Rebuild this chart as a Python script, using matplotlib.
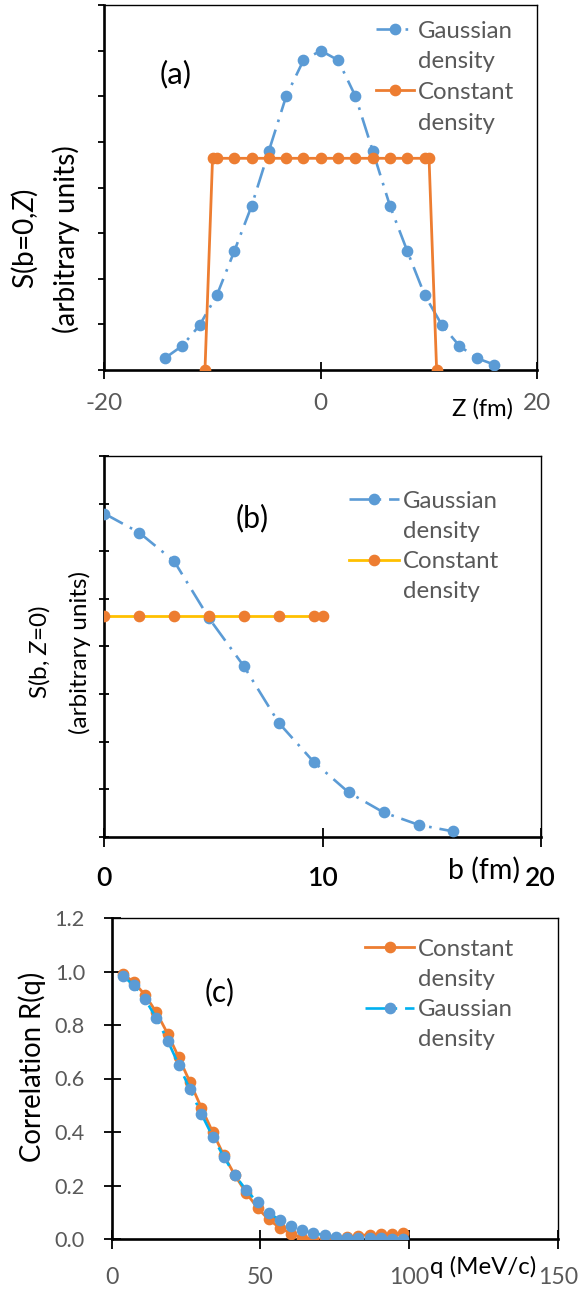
import numpy as np
import matplotlib
matplotlib.use("Agg")
import matplotlib.pyplot as plt
from matplotlib.lines import Line2D
from matplotlib.font_manager import FontProperties

plt.rcParams['font.family'] = ['Lato', 'DejaVu Sans']
plt.rcParams['axes.unicode_minus'] = False
plt.rcParams['mathtext.fontset'] = 'custom'
plt.rcParams['mathtext.rm'] = 'Lato'
plt.rcParams['mathtext.it'] = 'Lato:italic'

# ---------------- data ----------------
# panel (a): S(b=0, Z) vs Z (fm)
za_gauss = [-14.4, -12.8, -11.2, -9.6, -8.0, -6.4, -4.8, -3.2, -1.6, 0.0,
            1.6, 3.2, 4.8, 6.4, 8.0, 9.6, 11.2, 12.8, 14.4, 16.0]
sa_gauss = [0.26, 0.53, 0.98, 1.64, 2.60, 3.59, 4.80, 6.00, 6.79, 7.00,
            6.79, 6.00, 4.80, 3.59, 2.60, 1.64, 0.98, 0.53, 0.26, 0.12]
za_const = [-10.7, -10.0, -9.6, -8.0, -6.4, -4.8, -3.2, -1.6, 0.0,
            1.6, 3.2, 4.8, 6.4, 8.0, 9.6, 10.0, 10.7]
sa_const = [0.0, 4.64, 4.64, 4.64, 4.64, 4.64, 4.64, 4.64, 4.64,
            4.64, 4.64, 4.64, 4.64, 4.64, 4.64, 4.64, 0.0]

# panel (b): S(b, Z=0) vs b (fm)
bb_gauss = [0.0, 1.6, 3.2, 4.8, 6.4, 8.0, 9.6, 11.2, 12.8, 14.4, 16.0]
sb_gauss = [6.79, 6.39, 5.79, 4.59, 3.58, 2.39, 1.57, 0.93, 0.51, 0.25, 0.11]
bb_const = [0.0, 1.6, 3.2, 4.8, 6.4, 8.0, 9.6, 10.0]
sb_const = [4.64, 4.64, 4.64, 4.64, 4.64, 4.64, 4.64, 4.64]

# panel (c): correlation R(q) vs q (MeV/c)
q_vals = [3.8, 7.5, 11.3, 15.1, 18.9, 22.6, 26.4, 30.2, 34.0, 37.7, 41.5,
          45.3, 49.1, 52.8, 56.6, 60.4, 64.2, 67.9, 71.7, 75.5, 79.3, 83.0,
          86.8, 90.6, 94.4, 98.1]
r_const = [0.991, 0.960, 0.912, 0.847, 0.767, 0.679, 0.586, 0.491, 0.400,
           0.314, 0.238, 0.172, 0.116, 0.073, 0.042, 0.020, 0.004, 0.000,
           0.000, 0.005, 0.007, 0.013, 0.016, 0.019, 0.018, 0.021]
r_gauss = [0.983, 0.949, 0.896, 0.825, 0.741, 0.651, 0.559, 0.468, 0.383,
           0.308, 0.238, 0.183, 0.137, 0.099, 0.070, 0.050, 0.032, 0.022,
           0.014, 0.008, 0.005, 0.004, 0.002, 0.002, 0.001, 0.001]

xticks_a = [-20, 0, 20]
xticks_b = [0, 10, 20]
xticks_c = [0, 50, 100, 150]
yticks_c = [0.0, 0.2, 0.4, 0.6, 0.8, 1.0, 1.2]

# ---------------- style ----------------
BLUE = '#5B9BD5'
ORANGE = '#ED7D31'
YELLOW = '#FFC000'
CYAN = '#00B0F0'
GRAY = '#595959'
DASHDOT = (0, (8, 3, 1, 3))
MS = 7.4
LW_D = 1.9
LW_S = 2.0

W, H = 580, 1295
DPI = 100
fig = plt.figure(figsize=(W / DPI, H / DPI), dpi=DPI)
renderer = fig.canvas.get_renderer()


def text_wh(s, size, weight='normal'):
    prop = FontProperties(family=plt.rcParams['font.family'], size=size, weight=weight)
    w, h, d = renderer.get_text_width_height_descent(s, prop, ismath=False)
    return w, h, d


def fit(s, target_px, weight='normal'):
    w, _, _ = text_wh(s, 20, weight)
    return 20.0 * target_px / w


def px2pt(px):
    return px * 72.0 / DPI


def add_axes_px(left, top, right, bottom):
    return fig.add_axes([left / W, 1 - bottom / H, (right - left) / W, (bottom - top) / H])


def style_axes(ax, tickcolor):
    for s in ['left', 'bottom']:
        ax.spines[s].set_linewidth(1.9)
    for s in ['top', 'right']:
        ax.spines[s].set_linewidth(1.0)
    ax.tick_params(axis='both', colors='black', width=1.3)
    ax.tick_params(axis='x', labelcolor=tickcolor)
    ax.tick_params(axis='y', labelcolor=tickcolor)


def line_pitch_factor(size, pitch_px):
    _, h, d = text_wh('lp', size)
    return pitch_px / (h - d) if h - d > 0 else 1.2


LEG_FS = fit('Gaussian', 95)
BLANK = Line2D([], [], color='none')


def two_row_legend(ax, box, h1, t1, h2, t2, handle_left_px, first_row_px, pitch_px, hl_px):
    left, top, right, bottom = box
    fs_px = LEG_FS * DPI / 72.0
    _, hlp, dlp = text_wh('lp', LEG_FS)
    ls = (pitch_px - hlp) / fs_px
    top_px = first_row_px - hlp / 2.0
    x = (handle_left_px - left) / (right - left)
    y = (bottom - top_px) / (bottom - top)
    leg = ax.legend(handles=[h1, BLANK, h2, BLANK],
                    labels=[t1, 'density', t2, 'density'],
                    loc='upper left', bbox_to_anchor=(x, y),
                    frameon=False, fontsize=LEG_FS, labelcolor=GRAY,
                    handlelength=hl_px / fs_px, handletextpad=4.0 / fs_px,
                    labelspacing=ls, borderpad=0.0, borderaxespad=0.0)
    return leg


def place_label(axis, box, cx_px, cy_px):
    left, top, right, bottom = box
    axis.set_label_coords((cx_px - left) / (right - left), (bottom - cy_px) / (bottom - top))
    axis.label.set_va('center')
    axis.label.set_ha('center')


# ---------------- panel (a) ----------------
box_a = (104.3, 5, 537.3, 370)
axa = add_axes_px(*box_a)
la1, = axa.plot(za_gauss, sa_gauss, color=BLUE, lw=LW_D, ls=DASHDOT,
                marker='o', ms=MS, zorder=3)
la2, = axa.plot(za_const, sa_const, color=ORANGE, lw=LW_S, ls='-',
                marker='o', ms=MS, zorder=4)
axa.set_xlim(-20, 20)
axa.set_ylim(0, 8)
axa.set_xticks(xticks_a)
axa.set_yticks(range(0, 9))
axa.set_yticklabels([])
style_axes(axa, GRAY)
fs_ta = fit('20', 28)
axa.tick_params(axis='x', direction='inout', length=px2pt(17), pad=10.5, labelsize=fs_ta)
axa.tick_params(axis='y', direction='out', length=px2pt(6))
axa.set_xlabel('Z (fm)', fontsize=fit('Z (fm)', 61))
place_label(axa.xaxis, box_a, 482, 409)
fs_ya = fit('(arbitrary units)', 188)
axa.set_ylabel('S(b=0,$\\mathit{Z}$)\n(arbitrary units)', fontsize=fs_ya,
               linespacing=line_pitch_factor(fs_ya, 33))
place_label(axa.yaxis, box_a, 44.5, 239)
axa.text((176 - 104.3) / 433.0, (370 - 74) / 365.0, '(a)', transform=axa.transAxes,
         fontsize=fit('(a)', 32), ha='center', va='center')
two_row_legend(axa, box_a, la1, 'Gaussian', la2, 'Constant', 376, 31, 30.7, 38)

# ---------------- panel (b) ----------------
box_b = (104.3, 456, 540.7, 836.7)
axb = add_axes_px(*box_b)
lb1, = axb.plot(bb_gauss, sb_gauss, color=BLUE, lw=LW_D, ls=DASHDOT,
                marker='o', ms=MS, zorder=3)
lb2, = axb.plot(bb_const, sb_const, color=YELLOW, lw=LW_S, ls='-',
                marker='o', ms=MS, mfc=ORANGE, mec=ORANGE, zorder=4)
axb.set_xlim(0, 20)
axb.set_ylim(0, 8)
axb.set_xticks(xticks_b)
axb.set_yticks(range(0, 9))
axb.set_yticklabels([])
style_axes(axb, 'black')
fs_tb = fit('20', 30.7, 'semibold')
axb.tick_params(axis='x', direction='inout', length=px2pt(19), pad=14, labelsize=fs_tb)
for lab in axb.get_xticklabels():
    lab.set_fontweight('semibold')
axb.tick_params(axis='y', direction='inout', length=px2pt(10))
axb.set_xlabel('b (fm)', fontsize=fit('b (fm)', 72))
place_label(axb.xaxis, box_b, 484, 870)
fs_yb = fit('(arbitrary units)', 163)
axb.set_ylabel('S(b, $\\mathit{Z}$=0)\n(arbitrary units)', fontsize=fs_yb,
               linespacing=line_pitch_factor(fs_yb, 33))
place_label(axb.yaxis, box_b, 58.5, 652)
axb.text((252 - 104.3) / 436.4, (836.7 - 518) / 380.7, '(b)', transform=axb.transAxes,
         fontsize=fit('(b)', 33), ha='center', va='center')
two_row_legend(axb, box_b, lb1, 'Gaussian', lb2, 'Constant', 349, 501, 30.3, 50)

# ---------------- panel (c) ----------------
box_c = (111.5, 918, 557.7, 1239)
axc = add_axes_px(*box_c)
lc1, = axc.plot(q_vals, r_const, color=ORANGE, lw=LW_S, ls='-',
                marker='o', ms=MS, zorder=3)
lc2, = axc.plot(q_vals, r_gauss, color=CYAN, lw=LW_D, ls=DASHDOT,
                marker='o', ms=MS, mfc=BLUE, mec=BLUE, zorder=4)
axc.set_xlim(0, 150)
axc.set_ylim(0, 1.2)
axc.set_xticks(xticks_c)
axc.set_yticks(yticks_c)
axc.set_yticklabels(['%.1f' % v for v in yticks_c])
style_axes(axc, GRAY)
axc.tick_params(axis='x', direction='inout', length=px2pt(19), pad=13, labelsize=fit('100', 40))
axc.tick_params(axis='y', direction='inout', length=px2pt(17), pad=px2pt(18),
                labelsize=fit('1.2', 30))
axc.set_xlabel('q (MeV/c)', fontsize=fit('q (MeV/c)', 106))
place_label(axc.xaxis, box_c, 483, 1267)
axc.set_ylabel('Correlation R(q)', fontsize=fit('Correlation R(q)', 191))
place_label(axc.yaxis, box_c, 32, 1067)
axc.text((220 - 111.5) / 446.2, (1239 - 992) / 321.0, '(c)', transform=axc.transAxes,
         fontsize=fit('(c)', 30), ha='center', va='center')
two_row_legend(axc, box_c, lc1, 'Constant', lc2, 'Gaussian', 365, 949, 30.3, 49)

fig.savefig('out.png', dpi=DPI)
